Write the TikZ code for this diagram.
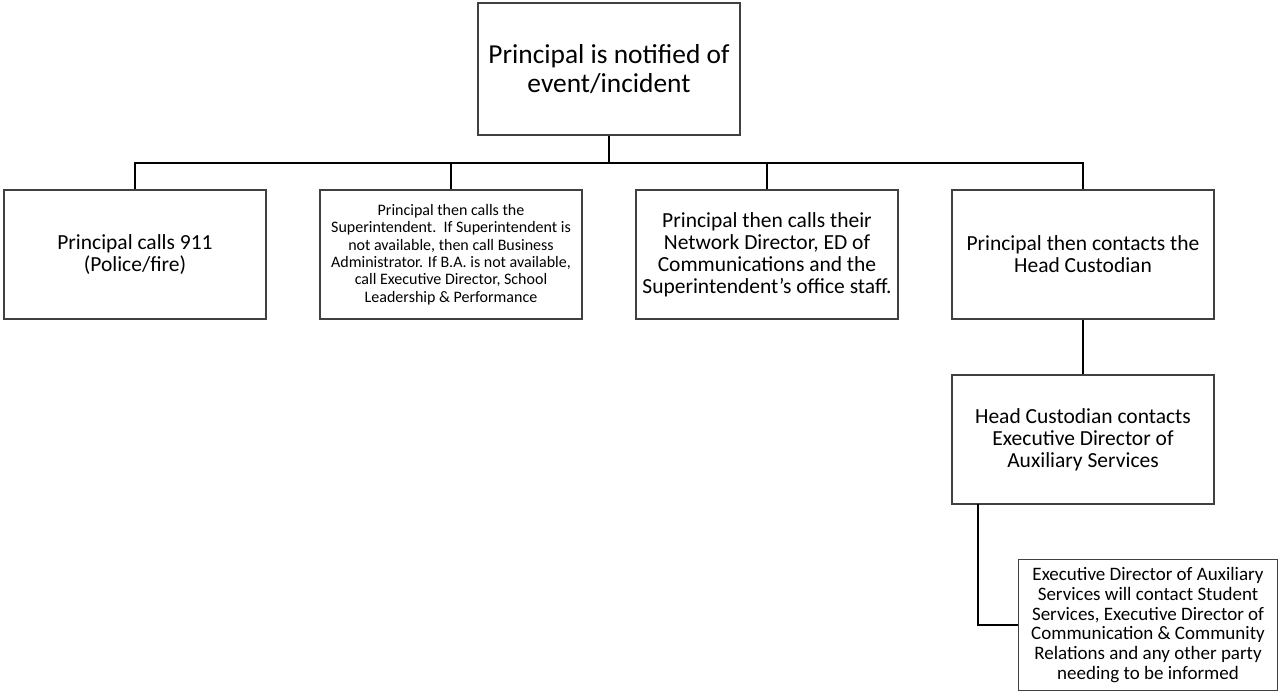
\documentclass[tikz,border=0pt]{standalone}
\usepackage{fontspec}
\setmainfont{Carlito}
\definecolor{edge}{HTML}{404040}
\begin{document}
\begin{tikzpicture}[x=1pt,y=-1pt,
  box/.style={draw=edge,line width=1.5pt,inner sep=0pt,align=center,text=black},
  conn/.style={draw=black,line width=1.5pt}]
\useasboundingbox (0,0) rectangle (1279,694);
\node[box,minimum width=262pt,minimum height=132pt,font=\fontsize{27.4}{29}\selectfont] (top) at (609,69) {Principal is notified of\\event/incident};
\node[box,minimum width=262pt,minimum height=129pt,font=\fontsize{21.5}{21.8}\selectfont] (b1) at (135,254.5) {Principal calls 911\\(Police/fire)};
\node[box,minimum width=262pt,minimum height=129pt,font=\fontsize{16}{17.3}\selectfont] (b2) at (451,254.5) {Principal then calls the\\Superintendent.\ \ If Superintendent is\\not available, then call Business\\Administrator. If B.A.\ is not available,\\call Executive Director, School\\Leadership \& Performance};
\node[box,minimum width=262pt,minimum height=129pt,font=\fontsize{21.5}{22}\selectfont] (b3) at (767,254.5) {Principal then calls their\\Network Director, ED of\\Communications and the\\Superintendent’s office staff.};
\node[box,minimum width=262pt,minimum height=129pt,font=\fontsize{21.5}{22}\selectfont] (b4) at (1083,254.5) {Principal then contacts the\\Head Custodian};
\node[box,minimum width=262pt,minimum height=129pt,font=\fontsize{21.5}{22}\selectfont] (b5) at (1083,439.5) {Head Custodian contacts\\Executive Director of\\Auxiliary Services};
\node[box,minimum width=259pt,minimum height=131pt,font=\fontsize{19}{19.7}\selectfont] (b6) at (1148,625) {Executive Director of Auxiliary\\Services will contact Student\\Services, Executive Director of\\Communication \& Community\\Relations and any other party\\needing to be informed};
\coordinate (bus) at (609,163);
\draw[conn] (top.south) -- (bus);
\draw[conn] (b1.north) |- (bus) -| (b4.north);
\draw[conn] (b2.north) -- (b2.north |- bus);
\draw[conn] (b3.north) -- (b3.north |- bus);
\draw[conn] (b4.south) -- (b5.north);
\coordinate (c5) at (978,504);
\draw[conn] (c5) |- (b6.west);
\end{tikzpicture}
\end{document}
